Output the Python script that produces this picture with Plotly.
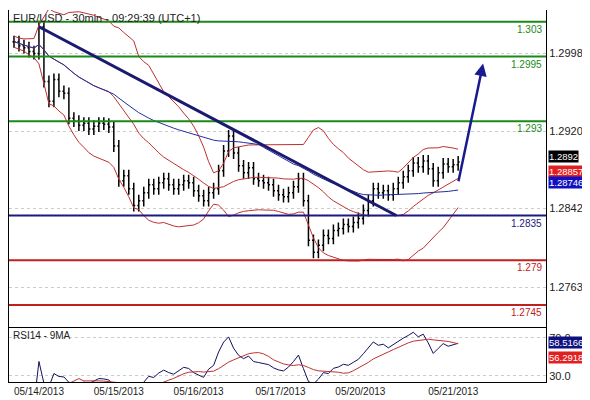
import numpy as np
import pandas as pd
import plotly.graph_objects as go

closes = [1.3010, 1.3006, 1.3004, 1.3000, 1.2998, 1.3025, 1.2970, 1.2950, 1.2972, 1.2960,
          1.2958, 1.2933, 1.2930, 1.2926, 1.2928, 1.2922, 1.2925, 1.2928, 1.2927, 1.2924,
          1.2905, 1.2870, 1.2875, 1.2862, 1.2845, 1.2850, 1.2858, 1.2866, 1.2862, 1.2868,
          1.2872, 1.2866, 1.2862, 1.2866, 1.2870, 1.2868, 1.2860, 1.2855, 1.2850, 1.2858,
          1.2862, 1.2880, 1.2900, 1.2915, 1.2898, 1.2885, 1.2878, 1.2883, 1.2872, 1.2870,
          1.2868, 1.2866, 1.2860, 1.2856, 1.2854, 1.2858, 1.2864, 1.2872, 1.2850, 1.2810,
          1.2798, 1.2805, 1.2815, 1.2812, 1.2820, 1.2822, 1.2826, 1.2824, 1.2828, 1.2832,
          1.2840, 1.2850, 1.2862, 1.2858, 1.2860, 1.2856, 1.2862, 1.2868, 1.2874, 1.2880,
          1.2888, 1.2884, 1.2890, 1.2882, 1.2870, 1.2878, 1.2887, 1.2884, 1.2886, 1.2889]
date_labels = ["05/14/2013", "05/15/2013", "05/16/2013", "05/17/2013", "05/20/2013", "05/21/2013"]
date_pos = [5, 21, 37, 53.4, 69.4, 88]
levels = [1.303, 1.2995, 1.293, 1.2835, 1.279, 1.2745]
level_text = ["1.303", "1.2995", "1.293", "1.2835", "1.279", "1.2745"]
level_colors = ["#1a8a1a", "#1a8a1a", "#1a8a1a", "#1a1a80", "#c02020", "#c02020"]
trend = [(5, 1.3025), (76.6, 1.2835)]
arrow = [(89, 1.2868), (94, 1.2988)]
price_ticks = [1.2998, 1.2920, 1.2842, 1.2763]

c = pd.Series(closes)
x = list(range(len(closes)))
opens = [closes[0]] + closes[:-1]
wick = 0.0006
highs = [max(o, cl) + wick for o, cl in zip(opens, closes)]
lows = [min(o, cl) - wick for o, cl in zip(opens, closes)]
mid = c.rolling(20, min_periods=1).mean()
sd = c.rolling(20, min_periods=2).std().bfill()
ma = c.rolling(50, min_periods=1).mean()
delta = c.diff()
gain = delta.clip(lower=0).ewm(alpha=1/10, adjust=False).mean()
loss = (-delta.clip(upper=0)).ewm(alpha=1/10, adjust=False).mean()
rsi = 100 - 100 / (1 + gain / loss)
rsi_ma = rsi.rolling(9, min_periods=1).mean()

fig = go.Figure()
fig.add_trace(go.Ohlc(x=x, open=opens, high=highs, low=lows, close=closes,
                      increasing_line_color="black", decreasing_line_color="black",
                      line_width=1.5, tickwidth=0.3, yaxis="y"))
for s in [mid + 2 * sd, mid, mid - 2 * sd]:
    fig.add_trace(go.Scatter(x=x, y=s, mode="lines", line=dict(color="#c03030", width=1), yaxis="y"))
fig.add_trace(go.Scatter(x=x, y=ma, mode="lines", line=dict(color="#2030a0", width=1), yaxis="y"))
fig.add_trace(go.Scatter(x=x, y=rsi, mode="lines", line=dict(color="#101060", width=1), yaxis="y2"))
fig.add_trace(go.Scatter(x=x, y=rsi_ma, mode="lines", line=dict(color="#c03030", width=1), yaxis="y2"))

for lv, t, col in zip(levels, level_text, level_colors):
    fig.add_shape(type="line", xref="paper", x0=0, x1=1, y0=lv, y1=lv, yref="y",
                  line=dict(color=col, width=2))
    fig.add_annotation(xref="paper", x=0.997, y=lv, yref="y", text=t, showarrow=False,
                       xanchor="right", yanchor="top", font=dict(size=10, color=col))
fig.add_shape(type="line", x0=trend[0][0], y0=trend[0][1], x1=trend[1][0], y1=trend[1][1],
              yref="y", line=dict(color="#1a1a70", width=3))
fig.add_annotation(x=arrow[1][0], y=arrow[1][1], ax=arrow[0][0], ay=arrow[0][1],
                   axref="x", ayref="y", xref="x", yref="y", showarrow=True,
                   arrowhead=2, arrowsize=1, arrowwidth=2.5, arrowcolor="#1a1a90", text="")

badges = [(1.2894, "1.2892", "black", "y", "middle"), (1.2886, "1.28857", "#e02020", "y", "top"),
          (1.2875, "1.28746", "#1010c0", "y", "top"),
          (58.5, "58.5166", "#101080", "y2", "bottom"), (56.3, "56.2918", "#e02020", "y2", "top")]
for v, t, col, yr, ya in badges:
    fig.add_annotation(xref="paper", x=1.004, y=v, yref=yr, text=t, showarrow=False,
                       xanchor="left", yanchor=ya, bgcolor=col, font=dict(size=9.5, color="white"),
                       borderpad=0)

fig.add_annotation(xref="paper", yref="paper", x=0.003, y=1.0, text="EUR/USD - 30min - 09:29:39 (UTC+1)",
                   showarrow=False, xanchor="left", yanchor="top", font=dict(size=11, color="#222"))
fig.add_annotation(xref="paper", yref="paper", x=0.003, y=0.146, text="RSI14 - 9MA",
                   showarrow=False, xanchor="left", yanchor="top", font=dict(size=10, color="#222"))

axis_font = dict(family="Arial", size=11, color="#222")
fig.update_layout(
    width=590, height=400, margin=dict(l=1, r=52, t=2, b=26),
    paper_bgcolor="white", plot_bgcolor="white", showlegend=False,
    font=dict(family="Arial"),
    xaxis=dict(range=[-1, 106.6], tickvals=date_pos, ticktext=date_labels, showgrid=False,
               rangeslider=dict(visible=False), tickfont=dict(size=10, color="#222"), ticklen=0,
               showline=True, linecolor="black", mirror=True, anchor="y2", zeroline=False),
    yaxis=dict(domain=[0.146, 1], range=[1.27221, 1.30419], side="right", tickvals=price_ticks,
               tickformat=".4f", showgrid=True, gridcolor="#cccccc", griddash="dot",
               tickfont=axis_font, showline=True, linecolor="black", mirror=True, zeroline=False),
    yaxis2=dict(domain=[0, 0.146], range=[23.7, 80.5], side="right", tickvals=[30, 70],
                ticktext=["30.0", "70.0"], showgrid=True, gridcolor="#cccccc", griddash="dot",
                tickfont=axis_font, showline=True, linecolor="black", mirror=True, zeroline=False),
)
fig.write_html("out.html")
